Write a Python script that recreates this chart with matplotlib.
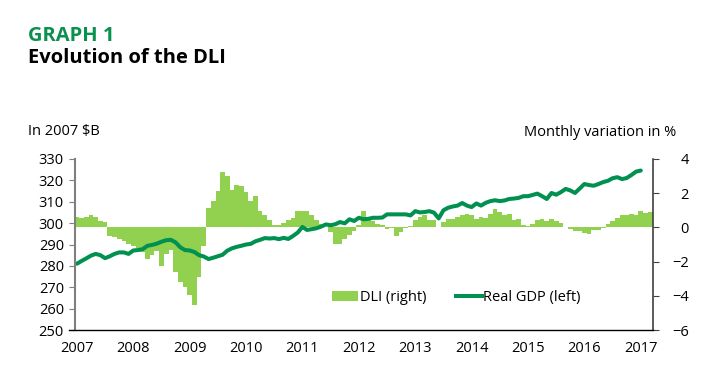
import matplotlib.pyplot as plt
from matplotlib.lines import Line2D
from matplotlib.patches import Patch

plt.rcParams['font.family'] = ['Open Sans', 'DejaVu Sans']

# monthly data, Jan 2007 onwards
years = ['2007', '2008', '2009', '2010', '2011', '2012', '2013', '2014', '2015', '2016', '2017']

# Real GDP, billions of 2007 dollars (left axis), Jan 2007 - Jan 2017
gdp = [281.0, 282.3, 283.5, 284.8, 285.6, 285.0, 283.6, 284.5, 285.6, 286.3, 286.3, 285.6,
       287.2, 287.4, 287.8, 289.4, 289.8, 290.4, 291.3, 292.0, 292.2, 291.0, 288.7, 287.4,
       287.2, 286.5, 285.0, 284.4, 283.2, 283.8, 284.5, 285.2, 287.1, 288.2, 288.9, 289.4,
       290.0, 290.3, 291.5, 292.2, 293.0, 292.8, 293.0, 292.5, 293.1, 292.6, 294.0, 295.6,
       298.2, 296.8, 297.2, 297.6, 298.4, 299.4, 299.0, 299.5, 300.5, 299.9, 301.8, 301.0,
       302.5, 301.8, 302.0, 302.5, 302.5, 302.6, 304.1, 304.1, 304.1, 304.1, 304.1, 303.6,
       305.6, 305.0, 305.2, 305.6, 304.9, 302.2, 306.0, 307.2, 307.8, 308.2, 309.4, 308.2,
       307.5, 309.2, 308.2, 309.5, 310.3, 310.7, 310.3, 310.6, 311.3, 311.5, 311.8, 312.6,
       312.6, 313.2, 313.8, 312.6, 311.3, 314.1, 313.3, 314.5, 316.0, 315.3, 314.1, 316.2,
       318.3, 317.8, 317.5, 318.3, 319.2, 319.8, 321.0, 321.5, 320.6, 321.1, 322.5, 324.1,
       324.6]

# DLI, monthly variation in % (right axis), Jan 2007 - Mar 2017
dli = [0.63, 0.55, 0.63, 0.74, 0.63, 0.40, 0.34, -0.50, -0.55, -0.70, -0.80, -0.96,
       -1.06, -1.20, -1.44, -1.83, -1.60, -1.40, -2.26, -1.54, -1.35, -2.60, -3.19, -3.48,
       -3.97, -4.51, -2.90, -1.06, 1.12, 1.56, 2.14, 3.24, 3.00, 2.20, 2.47, 2.43,
       2.05, 1.56, 1.85, 0.98, 0.75, 0.45, 0.15, 0.15, 0.26, 0.42, 0.55, 0.98,
       0.93, 0.96, 0.74, 0.45, 0.22, 0.00, -0.25, -0.96, -1.00, -0.70, -0.45, -0.20,
       0.15, 0.95, 0.55, 0.40, 0.20, 0.15, -0.10, -0.05, -0.50, -0.25, -0.05, 0.10,
       0.45, 0.60, 0.70, 0.45, 0.45, 0.05, 0.30, 0.50, 0.50, 0.59, 0.73, 0.78,
       0.70, 0.50, 0.59, 0.55, 0.78, 1.08, 0.88, 0.72, 0.80, 0.45, 0.49, 0.15,
       0.10, 0.20, 0.45, 0.50, 0.40, 0.49, 0.40, 0.26, 0.02, -0.10, -0.20, -0.20,
       -0.30, -0.40, -0.15, -0.15, -0.05, 0.20, 0.40, 0.55, 0.75, 0.73, 0.78, 0.70,
       0.98, 0.84, 0.88]

BAR_COLOR = '#92d050'
LINE_COLOR = '#00904f'
TITLE_GREEN = '#0a9150'

fig = plt.figure(figsize=(7.12, 3.67), dpi=100)
ax = fig.add_axes([75 / 712, 1 - 330 / 367, 578 / 712, 171 / 367])
ax2 = ax.twinx()

# bars on the right axis, line on the left axis (kept on top)
ax2.bar(range(len(dli)), dli, width=1.0, color=BAR_COLOR, linewidth=0)
ax.plot(range(len(gdp)), gdp, color=LINE_COLOR, linewidth=2.9,
        solid_capstyle='round', solid_joinstyle='round')
ax.set_zorder(ax2.get_zorder() + 1)
ax.patch.set_visible(False)

ax.set_xlim(-0.4, 122.6)
ax.set_ylim(250, 330)
ax.set_yticks(range(250, 331, 10))
ax2.set_ylim(-6, 4)
ax2.set_yticks(range(-6, 5, 2))

ax.set_xticks(range(0, 121, 12))
ax.set_xticklabels(years)
ax.tick_params(axis='x', length=0, pad=8, labelsize=10.5)
ax.tick_params(axis='y', direction='out', length=4, color='#7f7f7f', labelsize=10.5, pad=4)
ax2.tick_params(axis='y', direction='out', length=4, color='#404040', labelsize=10.5, pad=22)
for lab in ax2.get_yticklabels():
    lab.set_horizontalalignment('right')

for a in (ax, ax2):
    a.spines['top'].set_visible(False)
    a.spines['bottom'].set_visible(False)
ax.spines['right'].set_visible(False)
ax2.spines['left'].set_visible(False)
ax.spines['left'].set_color('#7f7f7f')
ax.spines['left'].set_linewidth(1.5)
ax2.spines['right'].set_color('#404040')
ax2.spines['right'].set_linewidth(1.2)

# bottom axis line runs a little past the left spine
fig.add_artist(Line2D([69 / 712, 653 / 712], [1 - 330 / 367] * 2, color='black', linewidth=1.0))

# titles
fig.text(28 / 712, 1 - 41 / 367, 'GRAPH 1', color=TITLE_GREEN, fontsize=14.5, fontweight='bold')
fig.text(28 / 712, 1 - 63 / 367, 'Evolution of the DLI', color='black', fontsize=14.5, fontweight='bold')
fig.text(28 / 712, 1 - 132 / 367, 'In 2007 $B', fontsize=10.5, va='center')
fig.text(676 / 712, 1 - 132 / 367, 'Monthly variation in %', fontsize=10.5, va='center', ha='right')

handles = [Patch(facecolor=BAR_COLOR, edgecolor='none'),
           Line2D([0], [0], color=LINE_COLOR, linewidth=2.9)]
ax.legend(handles, ['DLI (right)', 'Real GDP (left)'], ncol=2, frameon=False,
          loc='center', bbox_to_anchor=(0.66, 0.19), fontsize=10.5,
          handlelength=1.8, handletextpad=0.1, columnspacing=2.0)

plt.savefig('out.png', dpi=100)
